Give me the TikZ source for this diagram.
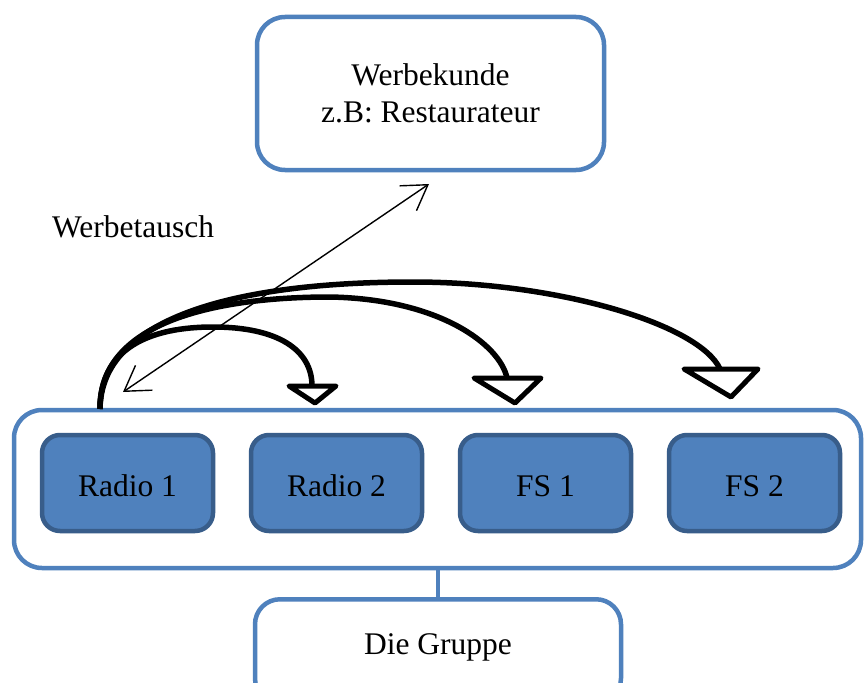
\documentclass[tikz,border=0pt]{standalone}
\usepackage{fontspec}
\setmainfont{Liberation Serif}
\usetikzlibrary{arrows.meta}
\definecolor{ofblue}{HTML}{4F81BD}
\definecolor{ofdark}{HTML}{385D8A}
\begin{document}
\begin{tikzpicture}[x=1pt,y=-1pt,
  font=\fontsize{31.5}{37}\selectfont,
  outerbox/.style={draw=ofblue, line width=4.5pt, rounded corners=28pt, fill=white, inner sep=0pt},
  unitbox/.style={draw=ofdark, fill=ofblue, line width=4.5pt, rounded corners=18pt,
    minimum width=171pt, minimum height=96pt, inner sep=0pt, text height=26pt, text depth=0pt},
  flow/.style={line width=5.5pt, line cap=butt},
  tiphead/.style={draw=black, fill=white, line width=5pt, line join=round},
  swap/.style={line width=1.4pt, {Straight Barb[length=24pt,width=30pt]}-{Straight Barb[length=24pt,width=30pt]}},
  link/.style={draw=ofblue, line width=4.5pt}
]
\clip (0,0) rectangle (866,682);
\fill[white] (0,0) rectangle (866,682);

% top client box
\node[outerbox, minimum width=347pt, minimum height=153pt, align=center] (client) at (430.5,93.5) {Werbekunde\\z.B: Restaurateur};

% label
\node[anchor=base west, inner sep=0pt] (lbl) at (52,237) {Werbetausch};

% group box and members
\node[outerbox, minimum width=847pt, minimum height=158pt] (group) at (437.5,489) {};
\node[unitbox] (r1) at (127.5,483) {Radio 1};
\node[unitbox] (r2) at (336.5,483) {Radio 2};
\node[unitbox] (f1) at (545.5,483) {FS 1};
\node[unitbox] (f2) at (754.5,483) {FS 2};

% Die Gruppe
\node[outerbox, rounded corners=25pt, minimum width=366pt, minimum height=104pt, anchor=north,
  text height=21.5pt, text depth=15.6pt] (gruppe) at (438,597) {Die Gruppe};
\draw[link] (gruppe.north) -- (gruppe.north |- group.south);

% curved flows from Radio 1
\coordinate (src) at (100,409);
\coordinate (b2) at (312,386);
\coordinate (b3) at (507,378);
\coordinate (b4) at (720,369);
\draw[flow] (src) .. controls (100,348) and (150,327) .. (213,327)
  .. controls (278,327) and (312,350) .. (b2);
\draw[flow] (src) .. controls (99,320) and (220,297) .. (330,297)
  .. controls (440,299) and (500,345) .. (b3);
\draw[flow] (src) .. controls (101,320) and (230,282) .. (413,282)
  .. controls (560,282) and (700,325) .. (b4);

% triangle heads
\draw[tiphead] (289,386) -- (336,386) -- (315,403) -- cycle;
\draw[tiphead] (474,378) -- (541,378) -- (515,403) -- cycle;
\draw[tiphead] (684,369) -- (758,369) -- (731,397) -- cycle;

% thin exchange arrow
\coordinate (sw) at (123,392);
\coordinate (ne) at (429,184);
\draw[swap] (sw) -- (ne);
\end{tikzpicture}
\end{document}
